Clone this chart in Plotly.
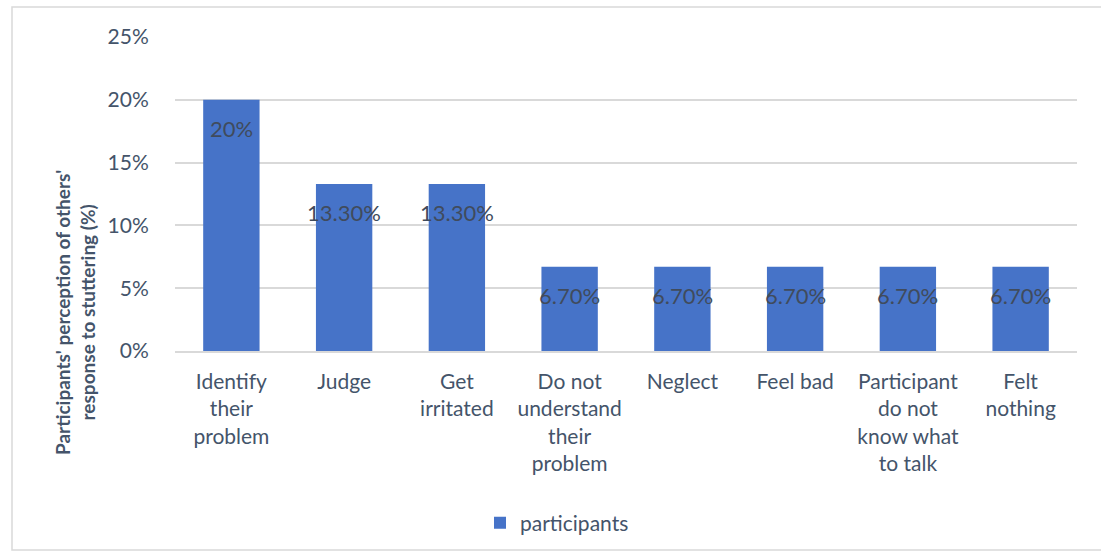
import plotly.graph_objects as go

categories = [
    "Identify<br>their<br>problem",
    "Judge",
    "Get<br>irritated",
    "Do not<br>understand<br>their<br>problem",
    "Neglect",
    "Feel bad",
    "Participant<br>do not<br>know what<br>to talk",
    "Felt<br>nothing",
]
values = [20, 13.3, 13.3, 6.7, 6.7, 6.7, 6.7, 6.7]
value_labels = ["20%", "13.30%", "13.30%", "6.70%", "6.70%", "6.70%", "6.70%", "6.70%"]
y_ticks = [0, 5, 10, 15, 20, 25]
y_tick_labels = ["0%", "5%", "10%", "15%", "20%", "25%"]

W, H = 1101, 555
L, R, T, B = 175, 24, 37, 204
pw, ph = W - L - R, H - T - B

FONT = "Lato"
TEXT = "#44546A"
GRID = "#D9D9D9"

fig = go.Figure()
fig.add_trace(go.Bar(
    x=categories,
    y=values,
    name="participants",
    marker=dict(color="#4673C8", line=dict(width=0)),
    width=0.5,
))

# value labels sitting just inside the top of each bar
for c, v, t in zip(categories, values, value_labels):
    fig.add_annotation(
        x=c, y=v, text=t, showarrow=False, yanchor="middle", yshift=-29,
        font=dict(family=FONT, size=22, color="#404B5C"),
    )

# vertical axis title
fig.add_annotation(
    xref="paper", yref="paper",
    x=(75 - L) / pw, y=(H - B - 313) / ph,
    text="<b>Participants' perception of others'<br>response to stuttering (%)</b>",
    textangle=-90, showarrow=False, xanchor="center", yanchor="middle",
    font=dict(family=FONT, size=19, color=TEXT),
)

# chart area border
fig.add_shape(
    type="rect", xref="paper", yref="paper",
    x0=(12 - L) / pw, x1=(1110 - L) / pw,
    y0=(H - B - 550) / ph, y1=(H - B - 7) / ph,
    line=dict(color="#D9D9D9", width=1.5), fillcolor="rgba(0,0,0,0)", layer="below",
)

fig.update_layout(
    width=W, height=H,
    margin=dict(l=L, r=R, t=T, b=B),
    paper_bgcolor="white", plot_bgcolor="white",
    font=dict(family=FONT, size=21, color=TEXT),
    bargap=0.5,
    showlegend=True,
    legend=dict(
        orientation="h", xref="container", yref="container",
        x=557 / W, xanchor="center", y=(H - 523) / H, yanchor="middle",
        font=dict(family=FONT, size=21, color=TEXT),
        itemwidth=30,
    ),
    xaxis=dict(
        showgrid=False, showline=True, linecolor=GRID, linewidth=1.5,
        ticks="outside", ticklen=11, tickcolor="rgba(0,0,0,0)",
        tickfont=dict(family=FONT, size=21, color=TEXT),
    ),
    yaxis=dict(
        range=[0, 25], tickvals=y_ticks, ticktext=y_tick_labels,
        showgrid=True, gridcolor=GRID, gridwidth=1.5, zeroline=False,
        ticks="outside", ticklen=21, tickcolor="rgba(0,0,0,0)",
        tickfont=dict(family=FONT, size=21, color=TEXT),
    ),
)

fig.write_html("out.html")
